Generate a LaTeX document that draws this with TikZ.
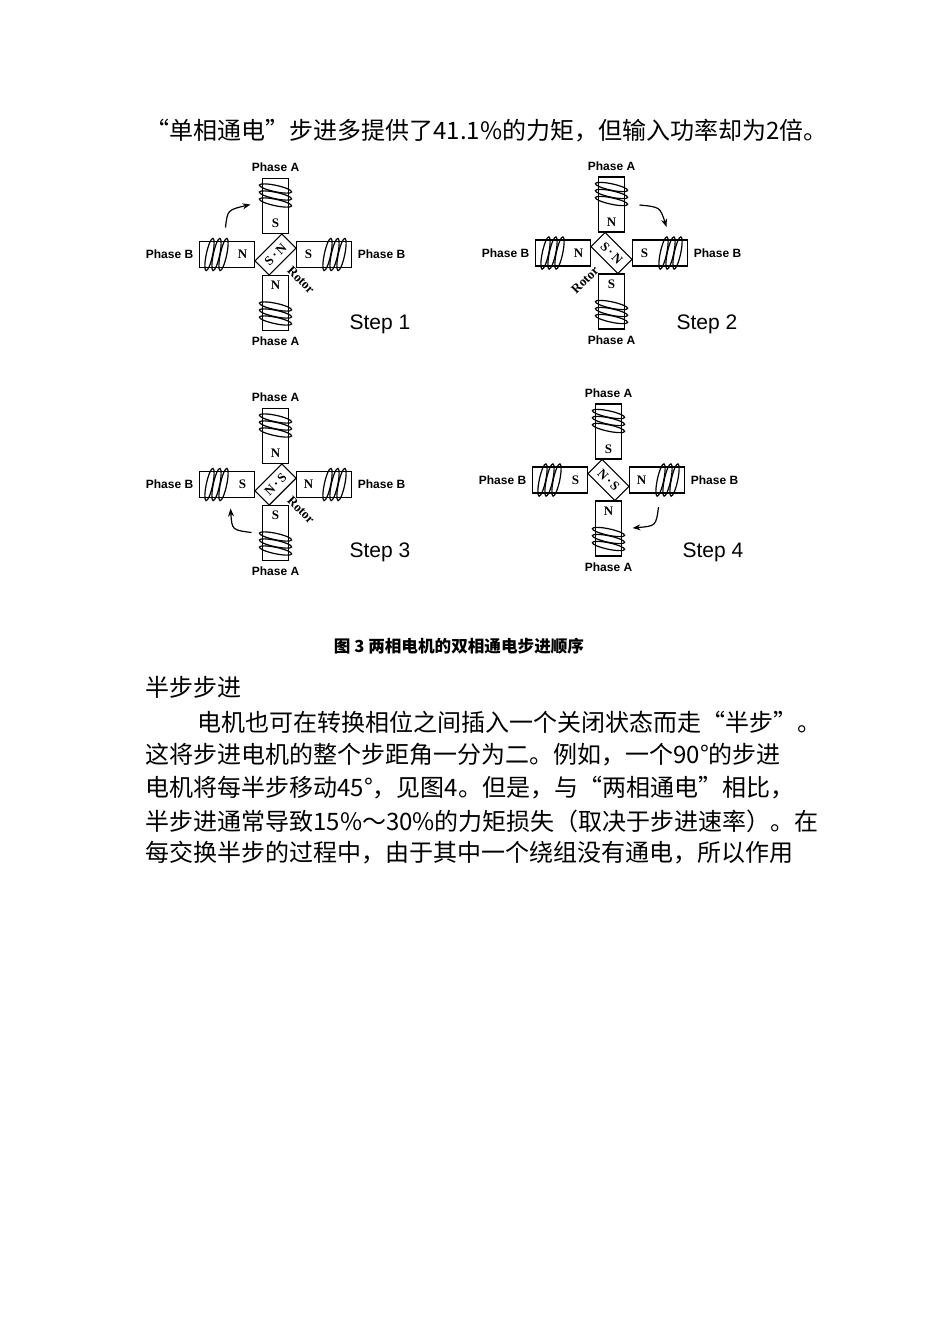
\documentclass[tikz,border=0pt]{standalone}
\usepackage{fontspec}
\setmainfont{Liberation Sans}
\newfontfamily\cjk{Noto Sans CJK SC}
\newfontfamily\serifb{Liberation Serif}
\usetikzlibrary{arrows.meta}
\tikzset{
 body/.style={anchor=west,font=\cjk\fontsize{12}{14}\selectfont,inner sep=0},
 phase/.style={font=\bfseries\fontsize{6}{7}\selectfont,inner sep=0},
 pl/.style={font=\serifb\bfseries\fontsize{6.5}{7}\selectfont,inner sep=0},
 steplbl/.style={font=\fontsize{10.5}{12}\selectfont,inner sep=0},
 turn/.style={line width=0.6pt},
 mv/.style={line width=0.6pt,-{Stealth[length=4pt,width=3pt]}}
}
\newcommand{\coilpole}[1]{%
 \begin{scope}[rotate=#1]
  \draw[line width=0.6pt] (21,-13) rectangle (76,13);
  \foreach \u in {52,59,66}{
   \draw[turn,rotate around={-12:(\u,0)}] (\u,0) ellipse [x radius=3.2, y radius=16.5];
  }
 \end{scope}}
\newcommand{\motor}[9]{%
 \begin{scope}[shift={(#1,#2)}]
  \coilpole{0}\coilpole{90}\coilpole{180}\coilpole{270}
  \node[pl] (t#9) at (0,-31) {#3};
  \node[pl] (l#9) at (-33,0) {#4};
  \node[pl] (r#9) at (33,0) {#5};
  \node[pl] (b#9) at (0,31) {#6};
  \draw[line width=0.6pt,fill=white,rotate=#7] (-19,-10) rectangle (19,10);
  \node[pl,rotate=#7] (ro#9) at (0,0) {#8};
  \node[phase] (pa#9) at (0,-87) {Phase A};
  \node[phase] (pb#9) at (0,87) {Phase A};
  \node[phase] (ql#9) at (-106,0) {Phase B};
  \node[phase] (qr#9) at (106,0) {Phase B};
 \end{scope}}
\begin{document}
\begin{tikzpicture}[x=0.5pt,y=-0.5pt]
\useasboundingbox (0,0) rectangle (950,1344);
\node[body] (l1) at (145,131) {“单相通电”步进多提供了41.1\%的力矩，但输入功率却为2倍。};
\motor{275.5}{254.5}{S}{N}{S}{N}{45}{S\,·\,N}{1}
\motor{611.5}{253}{N}{N}{S}{S}{-45}{S\,·\,N}{2}
\motor{275.5}{484.5}{N}{S}{N}{S}{45}{N\,·\,S}{3}
\motor{608.5}{480}{S}{S}{N}{N}{-45}{N\,·\,S}{4}
\node[pl,rotate=-45] (rr1) at (301,280) {Rotor};
\node[pl,rotate=45] (rr2) at (585,280) {Rotor};
\node[pl,rotate=-45] (rr3) at (301,510) {Rotor};
\node[steplbl] (s1) at (380,324) {Step 1};
\node[steplbl] (s2) at (707,324) {Step 2};
\node[steplbl] (s3) at (380,552) {Step 3};
\node[steplbl] (s4) at (713,552) {Step 4};
\coordinate (a1s) at (225.5,227.5); \coordinate (a1e) at (250.5,204.5);
\draw[mv] (a1s) .. controls (227.5,210) .. (a1e);
\coordinate (a2s) at (639.5,205); \coordinate (a2e) at (666.5,227);
\draw[mv] (a2s) .. controls (660,207) .. (a2e);
\coordinate (a3s) at (251.5,532.5); \coordinate (a3e) at (230.5,508.5);
\draw[mv] (a3s) .. controls (232,530) .. (a3e);
\coordinate (a4s) at (658.5,507); \coordinate (a4e) at (632.5,528);
\draw[mv] (a4s) .. controls (656,526) .. (a4e);
\node[inner sep=0,font=\cjk\bfseries\fontsize{8.3}{10}\selectfont] (cap) at (459,646) {图 3\ 两相电机的双相通电步进顺序};
\node[body] (h) at (145,687) {半步步进};
\node[body] (p1) at (197,722) {电机也可在转换相位之间插入一个关闭状态而走“半步”。};
\node[body] (p2) at (145,755) {这将步进电机的整个步距角一分为二。例如，一个90°的步进};
\node[body] (p3) at (145,788) {电机将每半步移动45°，见图4。但是，与“两相通电”相比，};
\node[body] (p4) at (145,821) {半步进通常导致15\%～30\%的力矩损失（取决于步进速率）。在};
\node[body] (p5) at (145,853) {每交换半步的过程中，由于其中一个绕组没有通电，所以作用};
\end{tikzpicture}
\end{document}
